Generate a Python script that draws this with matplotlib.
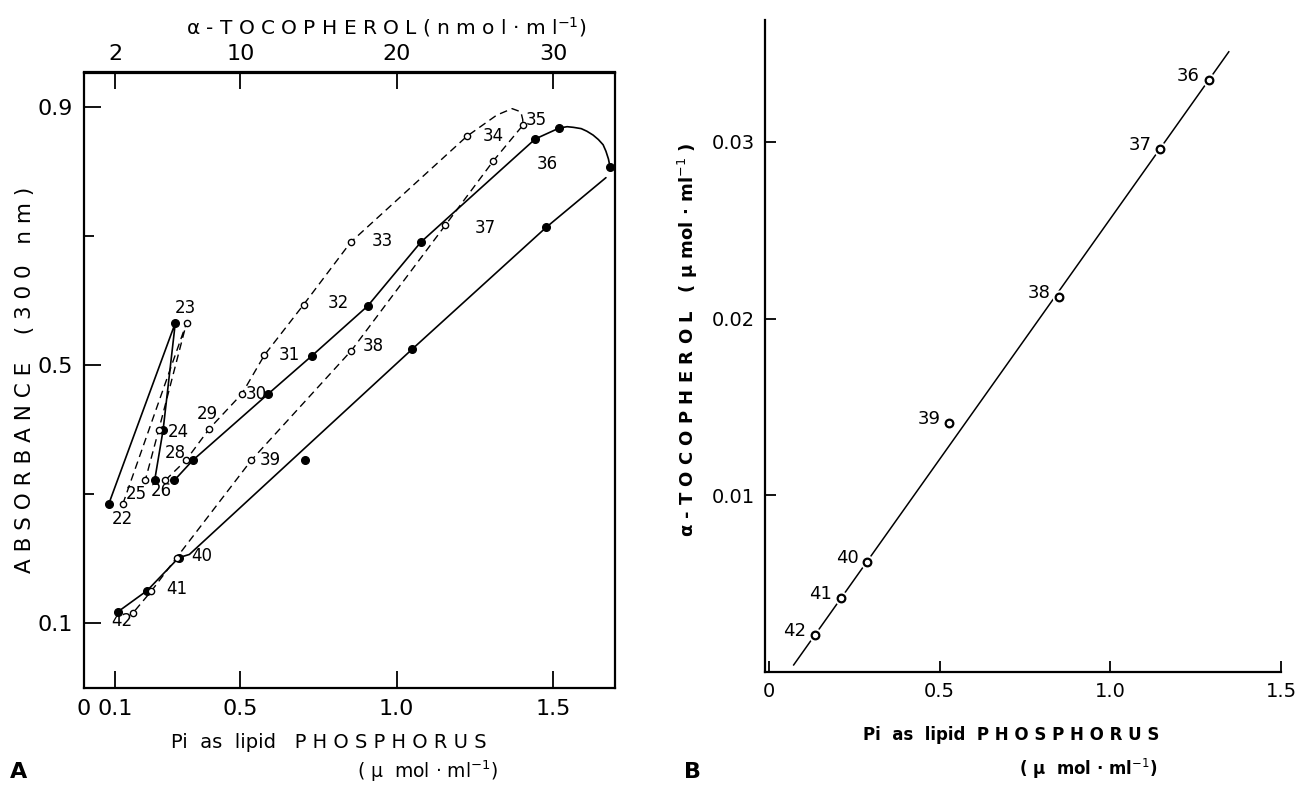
import matplotlib
matplotlib.use("Agg")
import matplotlib.pyplot as plt

# =========================
# DATA - PANEL A
# =========================
# filled circles: absorbance vs lipid phosphorus (bottom axis)
filled_x = [0.079, 0.292, 0.253, 0.226, 0.289, 0.348, 0.587, 0.729, 0.907, 1.077,
            1.443, 1.520, 1.682, 1.478, 1.049, 0.708, 0.303, 0.202, 0.108]
filled_y = [0.285, 0.566, 0.400, 0.322, 0.322, 0.353, 0.455, 0.515, 0.592, 0.691,
            0.851, 0.868, 0.808, 0.714, 0.525, 0.354, 0.202, 0.151, 0.118]

# open circles: absorbance vs alpha-tocopherol (top axis, drawn on phosphorus scale)
open_x = [0.124, 0.328, 0.239, 0.196, 0.260, 0.326, 0.401, 0.505, 0.577, 0.702,
          0.853, 1.224, 1.403, 1.309, 1.155, 0.855, 0.535, 0.296, 0.215, 0.156]
open_y = [0.285, 0.566, 0.400, 0.322, 0.322, 0.353, 0.402, 0.456, 0.516, 0.594,
          0.691, 0.855, 0.872, 0.817, 0.717, 0.523, 0.353, 0.202, 0.150, 0.116]

# solid curves (traced through the filled points)
solid_1_x = [0.079, 0.292, 0.253, 0.226]
solid_1_y = [0.285, 0.566, 0.400, 0.322]
solid_2_x = [0.289, 0.348, 0.587, 0.729, 0.907, 1.077, 1.443, 1.520,
             1.545, 1.565, 1.590, 1.608, 1.628, 1.645, 1.660, 1.669, 1.677, 1.682]
solid_2_y = [0.322, 0.353, 0.455, 0.515, 0.592, 0.691, 0.851, 0.868,
             0.870, 0.869, 0.867, 0.863, 0.857, 0.850, 0.842, 0.832, 0.820, 0.808]
solid_3_x = [1.669, 1.478, 1.049, 0.337, 0.303, 0.202, 0.108]
solid_3_y = [0.791, 0.714, 0.525, 0.207, 0.202, 0.151, 0.118]

# dashed curves (traced through the open points)
dashed_1_x = [0.124, 0.328, 0.239, 0.196]
dashed_1_y = [0.285, 0.566, 0.400, 0.322]
dashed_2_x = [0.260, 0.326, 0.401, 0.505, 0.577, 0.702, 0.853, 1.224,
              1.320, 1.369, 1.397, 1.403, 1.403, 1.309, 1.155, 0.855,
              0.535, 0.296, 0.215, 0.156]
dashed_2_y = [0.322, 0.353, 0.402, 0.456, 0.516, 0.594, 0.691, 0.855,
              0.888, 0.898, 0.893, 0.881, 0.872, 0.817, 0.717, 0.523,
              0.353, 0.202, 0.150, 0.116]

# fraction numbers: (text, point set, index)
fraction_labels_A = [
    ("22", "o", 0), ("23", "f", 1), ("24", "f", 2), ("25", "o", 3),
    ("26", "f", 3), ("28", "o", 5), ("29", "o", 6), ("30", "o", 7),
    ("31", "o", 8), ("32", "o", 9), ("33", "o", 10), ("34", "o", 11),
    ("35", "o", 12), ("36", "f", 10), ("37", "o", 14), ("38", "o", 15),
    ("39", "o", 16), ("40", "f", 16), ("41", "f", 17), ("42", "f", 18),
]
# label offsets in pixels (layout only)
label_offsets_A = [
    (0, -15), (10, 15), (15, -2), (-9, -14), (7, -11), (-11, 7), (-2, 15),
    (14, 0), (25, 0), (35, 2), (32, 1), (26, 0), (14, 5), (12, -25),
    (40, -3), (22, 5), (19, 0), (23, 2), (30, 2), (4, -9),
]

toc_ticks = [2, 10, 20, 30]
phos_ticks_A = [0, 0.1, 0.5, 1.0, 1.5]
phos_ticklabels_A = ["0", "0.1", "0.5", "1.0", "1.5"]
abs_ticks = [0.1, 0.5, 0.9]

# =========================
# DATA - PANEL B
# =========================
b_labels = ["36", "37", "38", "39", "40", "41", "42"]
b_phos = [1.288, 1.146, 0.850, 0.528, 0.288, 0.210, 0.134]
b_toc = [0.0335, 0.0296, 0.0212, 0.0141, 0.0062, 0.0042, 0.0021]
b_fit_x = [0.072, 1.347]
b_fit_y = [0.0004, 0.0351]

phos_ticks_B = [0, 0.5, 1.0, 1.5]
phos_ticklabels_B = ["0", "0.5", "1.0", "1.5"]
toc_ticks_B = [0.01, 0.02, 0.03]

# =========================
# FIGURE
# =========================
W, H = 1296, 786
fig = plt.figure(figsize=(W / 100, H / 100), dpi=100)
fig.patch.set_facecolor("white")

axA = fig.add_axes([84 / W, 1 - 688 / H, (615 - 84) / W, (688 - 72.5) / H])
axB = fig.add_axes([765 / W, 1 - 672 / H, (1281 - 765) / W, (672 - 20) / H])

# =========================
# PANEL A
# =========================
for xs, ys in [(solid_1_x, solid_1_y), (solid_2_x, solid_2_y), (solid_3_x, solid_3_y)]:
    axA.plot(xs, ys, color="black", lw=1.2, solid_capstyle="round",
             solid_joinstyle="round")
for xs, ys in [(dashed_1_x, dashed_1_y), (dashed_2_x, dashed_2_y)]:
    axA.plot(xs, ys, color="black", lw=1.0, dashes=(5.5, 3.5))

axA.plot(filled_x, filled_y, "o", color="black", ms=5.5, ls="none", zorder=4)
axA.plot(open_x, open_y, "o", mfc="white", mec="black", mew=1.0, ms=4.5,
         ls="none", zorder=4)

for (text, kind, idx), (dx, dy) in zip(fraction_labels_A, label_offsets_A):
    px, py = (filled_x[idx], filled_y[idx]) if kind == "f" else (open_x[idx], open_y[idx])
    axA.annotate(text, (px, py), xytext=(dx, dy), textcoords="offset pixels",
                 ha="center", va="center", fontsize=12)

axA.set_xlim(0, 1.698)
axA.set_ylim(0, 0.954)
axA.set_xticks(phos_ticks_A)
axA.set_xticklabels(phos_ticklabels_A)
axA.set_yticks(abs_ticks)
axA.set_yticklabels([f"{v:.1f}" for v in abs_ticks])
axA.set_yticks([0.3, 0.7], minor=True)
axA.tick_params(axis="both", which="major", direction="in", length=12, width=1.3,
                labelsize=16, pad=8)
axA.tick_params(axis="y", which="minor", direction="in", length=7, width=1.3)
for sp in axA.spines.values():
    sp.set_linewidth(1.6)

sec = axA.secondary_xaxis("top", functions=(lambda p: p * 20, lambda t: t / 20))
sec.set_xticks(toc_ticks)
sec.set_xticklabels([str(t) for t in toc_ticks])
sec.tick_params(direction="in", length=12, width=1.3, labelsize=16, pad=6)
sec.spines["top"].set_linewidth(1.6)

fig.text(386 / W, 1 - 27 / H, "α - T O C O P H E R O L ( n m o l · m l$^{-1}$)",
         ha="center", va="center", fontsize=14.5)
fig.text(25 / W, 1 - 380 / H, "A B S O R B A N C E    ( 3 0 0   n m )",
         rotation=90, ha="center", va="center", fontsize=15.5)
fig.text(329 / W, 1 - 743 / H, "Pi  as  lipid   P H O S P H O R U S",
         ha="center", va="center", fontsize=14)
fig.text(428 / W, 1 - 771 / H, "( µ  mol · ml$^{-1}$)",
         ha="center", va="center", fontsize=13.5)
fig.text(19 / W, 1 - 772 / H, "A", ha="center", va="center", fontsize=16,
         fontweight="bold")

# =========================
# PANEL B
# =========================
axB.plot(b_fit_x, b_fit_y, color="black", lw=1.1)
axB.plot(b_phos, b_toc, "o", mfc="white", mec="none", ms=10, ls="none", zorder=3)
axB.plot(b_phos, b_toc, "o", mfc="white", mec="black", mew=1.6, ms=5.5,
         ls="none", zorder=4)
for text, px, py in zip(b_labels, b_phos, b_toc):
    axB.annotate(text, (px, py), xytext=(-9, 4), textcoords="offset pixels",
                 ha="right", va="center", fontsize=13)

axB.set_xlim(-0.012, 1.5)
axB.set_ylim(0, 0.0369)
axB.set_xticks(phos_ticks_B)
axB.set_xticklabels(phos_ticklabels_B)
axB.set_yticks(toc_ticks_B)
axB.set_yticklabels([f"{v:.2f}" for v in toc_ticks_B])
axB.tick_params(axis="both", direction="in", length=8, width=1.3, labelsize=14, pad=7)
axB.spines["top"].set_visible(False)
axB.spines["right"].set_visible(False)
axB.spines["left"].set_linewidth(1.6)
axB.spines["bottom"].set_linewidth(1.6)

fig.text(688 / W, 1 - 340 / H, "α - T O C O P H E R O L   ( µ mol · ml$^{-1}$ )",
         rotation=90, ha="center", va="center", fontsize=13, fontweight="bold")
fig.text(1011 / W, 1 - 735 / H, "Pi  as  lipid  P H O S P H O R U S",
         ha="center", va="center", fontsize=12, fontweight="bold")
fig.text(1088 / W, 1 - 769 / H, "( µ  mol · ml$^{-1}$)",
         ha="center", va="center", fontsize=12, fontweight="bold")
fig.text(692 / W, 1 - 772 / H, "B", ha="center", va="center", fontsize=16,
         fontweight="bold")

fig.savefig("out.png", dpi=100, facecolor="white")
